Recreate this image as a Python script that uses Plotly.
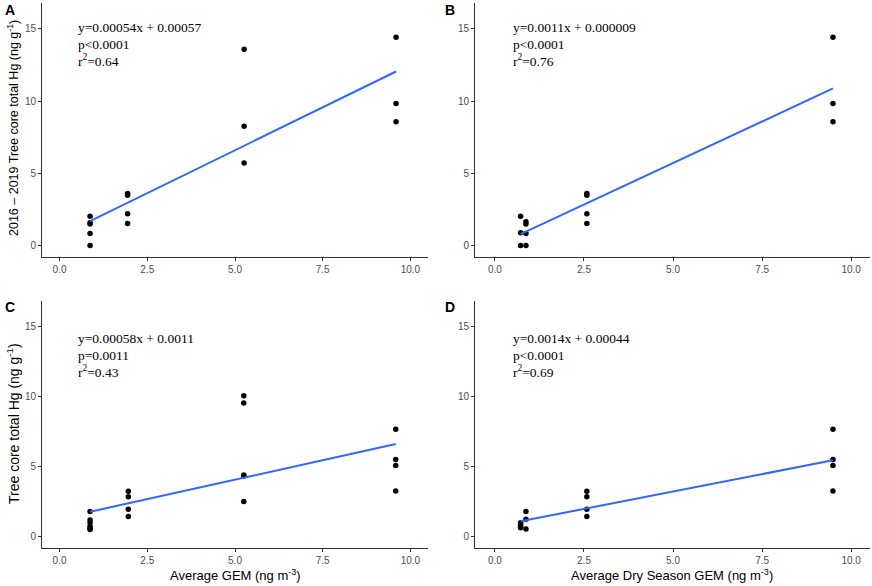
import numpy as np
import plotly.graph_objects as go

# panel A: all years, annual GEM
a_x = [0.87, 0.87, 0.87, 0.87, 0.87, 1.94, 1.94, 1.94, 1.94, 5.26, 5.26, 5.26, 9.59, 9.59, 9.59]
a_y = [2.03, 1.57, 1.48, 0.83, 0.0, 3.6, 3.48, 2.2, 1.52, 13.6, 8.26, 5.72, 14.42, 9.83, 8.58]

# panel B: all years, dry season GEM
b_x = [0.72, 0.72, 0.72, 0.87, 0.87, 0.87, 0.87, 2.58, 2.58, 2.58, 2.58, 9.49, 9.49, 9.49]
b_y = [2.03, 0.88, 0.0, 1.64, 1.48, 0.83, 0.0, 3.6, 3.48, 2.2, 1.52, 14.42, 9.83, 8.58]

# panel C: annual GEM
c_x = [0.87, 0.87, 0.87, 0.87, 0.87, 0.87, 1.96, 1.96, 1.96, 1.96,
       5.25, 5.25, 5.25, 5.25, 5.25, 9.58, 9.58, 9.58, 9.58]
c_y = [1.8, 1.2, 1.0, 0.75, 0.6, 0.52, 3.24, 2.86, 1.96, 1.44,
       10.05, 9.53, 4.4, 4.33, 2.51, 7.66, 5.51, 5.08, 3.26]

# panel D: dry season GEM
d_x = [0.72, 0.72, 0.72, 0.72, 0.87, 0.87, 0.87, 2.58, 2.58, 2.58, 2.58, 9.49, 9.49, 9.49, 9.49]
d_y = [1.0, 0.85, 0.75, 0.65, 1.8, 1.25, 0.55, 3.24, 2.86, 1.96, 1.44, 7.66, 5.51, 5.08, 3.26]

stats = [
    ["y=0.00054x + 0.00057", "p<0.0001", "r<sup>2</sup>=0.64"],
    ["y=0.0011x + 0.000009", "p<0.0001", "r<sup>2</sup>=0.76"],
    ["y=0.00058x + 0.0011", "p=0.0011", "r<sup>2</sup>=0.43"],
    ["y=0.0014x + 0.00044", "p<0.0001", "r<sup>2</sup>=0.69"],
]
letters = ["A", "B", "C", "D"]
x_ticks = [0.0, 2.5, 5.0, 7.5, 10.0]
y_ticks = [0, 5, 10, 15]

panels = [(a_x, a_y), (b_x, b_y), (c_x, c_y), (d_x, d_y)]

# pixel boxes of the four plot areas
W, H = 872, 586
boxes = [(42, 428, 3, 257), (475, 870, 3, 257), (42, 428, 301, 548), (475, 870, 301, 548)]
x_ranges = [[-0.5, 10.5], [-0.56, 10.53], [-0.5, 10.5], [-0.56, 10.53]]
letter_x = [3, 443, 3, 443]
letter_y = [10, 10, 307, 307]
stat_x = [0.48, 0.45, 0.48, 0.45]
stat_y = [[15.1, 13.95, 12.8], [15.1, 13.95, 12.8], [14.1, 12.9, 11.8], [14.1, 12.9, 11.8]]

sans = "Liberation Sans, Arial"
serif = "Liberation Serif, Times New Roman"
fig = go.Figure()
axis_font = dict(family=sans, size=10, color="#4d4d4d")

for i, (xs, ys) in enumerate(panels):
    n = "" if i == 0 else str(i + 1)
    fig.add_trace(go.Scatter(x=xs, y=ys, mode="markers", xaxis="x" + n, yaxis="y" + n,
                             marker=dict(color="black", size=5.5), showlegend=False))
    # linear fit like geom_smooth(method = "lm")
    k, b = np.polyfit(xs, ys, 1)
    lx = np.array([min(xs), max(xs)])
    fig.add_trace(go.Scatter(x=lx, y=k * lx + b, mode="lines", xaxis="x" + n, yaxis="y" + n,
                             line=dict(color="#3366FF", width=2), showlegend=False))

    x0, x1, y0, y1 = boxes[i]
    xa = dict(domain=[x0 / W, x1 / W], range=x_ranges[i], tickvals=x_ticks,
              ticktext=["%.1f" % t for t in x_ticks], anchor="y" + n,
              showline=True, linecolor="#333333", linewidth=1, ticks="outside",
              ticklen=3, tickcolor="#333333", showgrid=False, zeroline=False,
              tickfont=axis_font)
    ya = dict(domain=[1 - y1 / H, 1 - y0 / H], range=[-0.8, 16.8], tickvals=y_ticks,
              anchor="x" + n, showline=True, linecolor="#333333", linewidth=1,
              ticks="outside", ticklen=3, tickcolor="#333333", showgrid=False,
              zeroline=False, tickfont=axis_font)
    fig.update_layout({"xaxis" + n: xa, "yaxis" + n: ya})

    for line, yy in zip(stats[i], stat_y[i]):
        fig.add_annotation(x=stat_x[i], y=yy, xref="x" + n, yref="y" + n, text=line,
                           showarrow=False, xanchor="left", yanchor="middle",
                           font=dict(family=serif, size=13.5, color="black"))
    fig.add_annotation(x=letter_x[i] / W, y=1 - letter_y[i] / H, xref="paper", yref="paper",
                       text="<b>%s</b>" % letters[i], showarrow=False, xanchor="left",
                       yanchor="middle", font=dict(family=sans, size=14, color="black"))

# axis titles placed as text in paper space
titles = [
    ("2016 \u2013 2019 Tree core total Hg (ng g<sup>-1</sup>)", 13, 128, -90, 12.5),
    ("Tree core total Hg (ng g<sup>-1</sup>)", 13, 424, -90, 14),
    ("Average GEM (ng m<sup>-3</sup>)", 235, 575, 0, 13),
    ("Average Dry Season GEM (ng m<sup>-3</sup>)", 672, 575, 0, 13),
]
for text, px, py, ang, size in titles:
    fig.add_annotation(x=px / W, y=1 - py / H, xref="paper", yref="paper", textangle=ang,
                       text=text, showarrow=False, xanchor="center", yanchor="middle",
                       font=dict(family=sans, size=size, color="black"))

fig.update_layout(width=W, height=H, margin=dict(l=0, r=0, t=0, b=0),
                  plot_bgcolor="white", paper_bgcolor="white")

fig.write_html("out.html", config={"displayModeBar": False},
               post_script="document.body.style.margin='0';")
